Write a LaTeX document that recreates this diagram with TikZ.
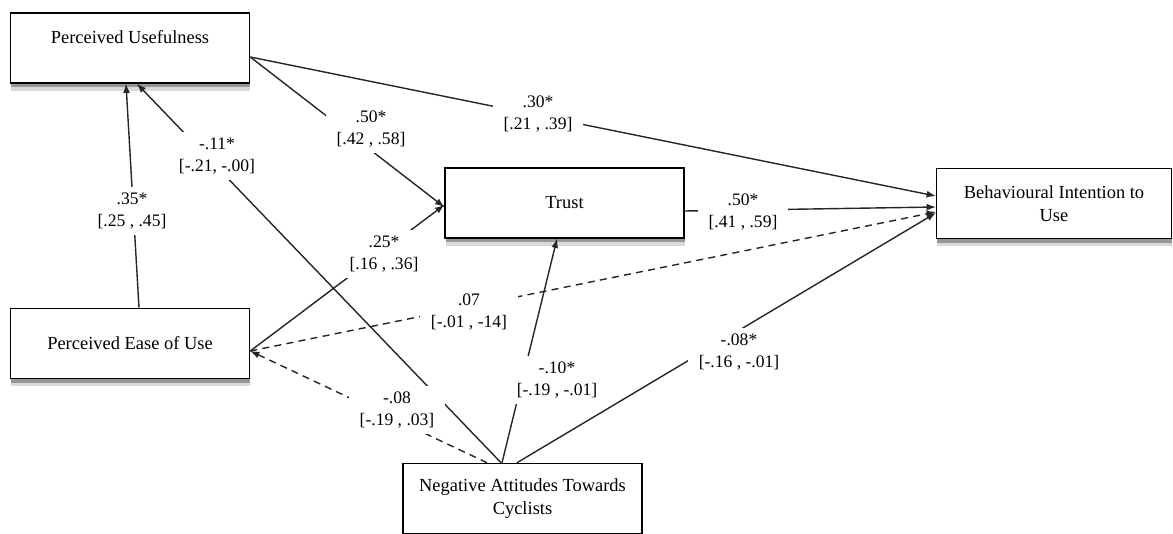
\documentclass[tikz,border=0pt]{standalone}
\usepackage{fontspec}
\setmainfont{Liberation Serif}
\usepackage{tikz}
\usetikzlibrary{shadows}
\def\largeur{1173}
\def\hauteur{534}

\begin{document}
\begin{tikzpicture}[x=0.02cm, y=-0.02cm,
	bloc/.style={draw, line width=0.9pt, fill=white, minimum width=4.78cm, minimum height=1.4cm, align=center, font=\fontsize{10.5}{13}\selectfont,
		drop shadow={shadow xshift=0.5pt, shadow yshift=-4.5pt, fill=black, opacity=0.15},
		drop shadow={shadow xshift=0.5pt, shadow yshift=-2.5pt, fill=black, opacity=0.3}},
	coef/.style={fill=white, inner xsep=6pt, inner ysep=3pt, align=center, font=\fontsize{10}{13}\selectfont},
	fleche/.style={-latex, line width=0.8pt, black!85},
	pointille/.style={fleche, dash pattern=on 4pt off 3pt}]
	\useasboundingbox (0,0) rectangle (\largeur,\hauteur);
	%\draw[step=50, black!20] (0,0) grid (\largeur,\hauteur);
	\node[bloc] (pu) at (130,48) {Perceived Usefulness\\ ~};
	\node[bloc] (trust) at (564.5,203) {Trust};
	\node[bloc] (peou) at (130,343.5) {Perceived Ease of Use};
	\node[bloc, minimum width=4.7cm] (bi) at (1054,203.5) {Behavioural Intention to\\Use};
	\node[bloc] (nac) at (522.5,498.5) {Negative Attitudes Towards\\Cyclists};
	% chemins
	\draw[fleche] ([xshift=0.18cm]peou.north) -- ([xshift=-0.08cm]pu.south);
	\draw[fleche] ([xshift=-0.43cm]nac.north) -- ([xshift=0.14cm]pu.south);
	\draw[fleche] ([yshift=-0.18cm]pu.east) -- ([yshift=-0.08cm]trust.west);
	\draw[fleche] ([yshift=-0.18cm]pu.east) -- ([yshift=0.15cm]bi.west);
	\draw[fleche] ([yshift=-0.16cm]trust.east) -- ([yshift=-0.07cm]bi.west);
	\draw[fleche] ([yshift=-0.15cm]peou.east) -- ([yshift=-0.04cm]trust.west);
	\draw[pointille] ([yshift=-0.15cm]peou.east) -- ([yshift=-0.17cm]bi.west);
	\draw[pointille] ([xshift=-0.71cm]nac.north) -- ([yshift=-0.15cm]peou.east);
	\draw[fleche] ([xshift=-0.41cm]nac.north) -- ([xshift=-0.15cm]trust.south);
	\draw[fleche] ([xshift=-0.11cm]nac.north) -- ([yshift=-0.19cm]bi.west);
	% coefficients
	\node[coef] (c35) at (132,211) {.35*\\{[.25 , .45]}};
	\node[coef] (c11) at (217,156) {-.11*\\{[-.21, -.00]}};
	\node[coef] (c50a) at (371,129) {.50*\\{[.42 , .58]}};
	\node[coef] (c30) at (538,114) {.30*\\{[.21 , .39]}};
	\node[coef] (c25) at (384,254) {.25*\\{[.16 , .36]}};
	\node[coef] (c07) at (469,312) {.07\\{[-.01 , -14]}};
	\node[coef] (c08) at (397,410) {-.08\\{[-.19 , .03]}};
	\node[coef] (c10) at (557,380) {-.10*\\{[-.19 , -.01]}};
	\node[coef] (c50b) at (743,212) {.50*\\{[.41 , .59]}};
	\node[coef] (c08s) at (739,352) {-.08*\\{[-.16 , -.01]}};
\end{tikzpicture}
\end{document}
